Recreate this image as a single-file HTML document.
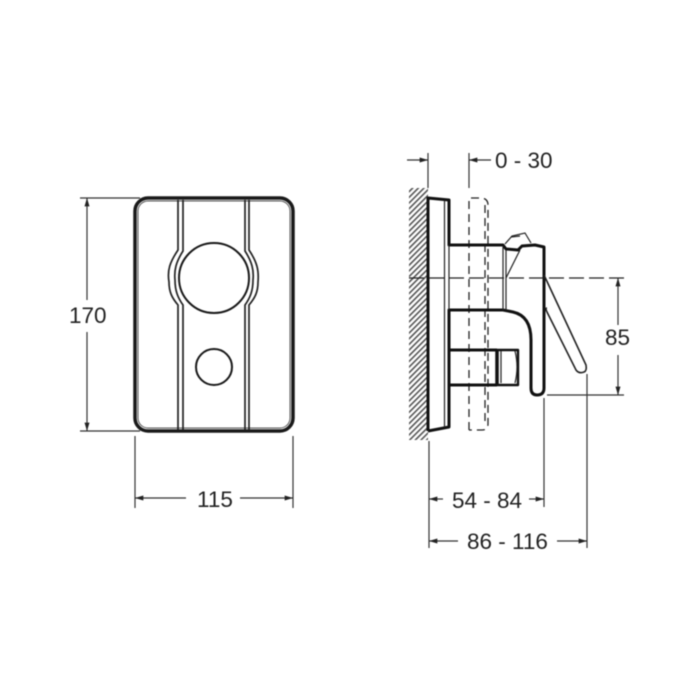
<!DOCTYPE html>
<html><head><meta charset="utf-8"><style>
html,body{margin:0;padding:0;background:#fff;width:700px;height:700px;overflow:hidden}
svg{display:block;filter:blur(.45px)}
text{font-family:"Liberation Sans",sans-serif;font-size:22.5px;fill:#222}
</style></head><body>
<svg width="700" height="700" viewBox="0 0 700 700" xmlns="http://www.w3.org/2000/svg">
<defs>
<pattern id="h" width="4" height="4" patternUnits="userSpaceOnUse" patternTransform="rotate(45)"><rect width="4" height="4" fill="#fff"/><rect width="1.6" height="4" fill="#555"/></pattern>
<marker id="a" viewBox="0 0 10 6" refX="10" refY="3" markerWidth="9" markerHeight="5" orient="auto-start-reverse" markerUnits="userSpaceOnUse"><path d="M0 0L10 3L0 6z" fill="#222"/></marker>
</defs>
<!-- front view -->
<rect x="135" y="198" width="158" height="233" rx="13" fill="#fff" stroke="#1a1a1a" stroke-width="3.5"/>
<rect x="138" y="201" width="152" height="227" rx="10" fill="none" stroke="#555" stroke-width="1"/>
<g fill="none" stroke="#222" stroke-width="1.7">
<path d="M178 200V250C170 262 167 270 169 282C169 292 172 298 178 305V430"/>
<path d="M183 200V251C176 262 174 270 175 280C175 291 178 298 183 305V430"/>
<path d="M245 200V251C252 262 254 270 253 280C253 291 250 298 245 305V430"/>
<path d="M249 200V250C257 262 259 270 258 282C258 292 255 298 249 305V430"/>
</g>
<circle cx="214" cy="278" r="35" fill="#fff" stroke="#1a1a1a" stroke-width="2"/>
<circle cx="214" cy="367" r="18" fill="#fff" stroke="#1a1a1a" stroke-width="2"/>
<!-- front dims -->
<g fill="none" stroke="#333" stroke-width="1.2">
<path d="M80 198H140M80 431H140"/>
<path d="M87 300V198" marker-end="url(#a)"/>
<path d="M87 332V431" marker-end="url(#a)"/>
<path d="M135 436V508M293 436V508"/>
<path d="M186 498H135" marker-end="url(#a)"/>
<path d="M240 498H293" marker-end="url(#a)"/>
</g>
<text x="69" y="323">170</text>
<text x="197" y="507">115</text>
<!-- wall -->
<path d="M409 188H428V440H409z" fill="url(#h)"/>
<!-- dashed escutcheon -->
<g fill="none" stroke="#222" stroke-width="1.3" stroke-dasharray="8 5">
<path d="M469 430V198H482Q488 199 488 205V424Q488 430 482 430H469"/>
<path d="M485 205V424"/>
</g>
<!-- side view solid -->
<g fill="none" stroke="#111" stroke-width="3" stroke-linejoin="round">
<path d="M428 431V198L449 200V245H503L506 249L518 250L522 246L535 245L544 247V388Q544 395 537 395Q531 395 531 388V340Q531 316 513 312L503 310H449V350H497M449 350V427L428 431M449 385H497"/>
<path d="M497 350H518V385H497z" stroke-width="2.4"/>
</g>
<path d="M497 350V385" stroke="#111" stroke-width="3.5"/>
<g fill="none" stroke="#222" stroke-width="1.2">
<path d="M444.500 200V427"/>
<path d="M449 245V310"/>
<path d="M503 246V310M506 250V310"/>
<path d="M506 278L520 250"/>
<path d="M505 244L512 236L525 233L531 243"/>
<path d="M511 237L520 236"/>
<path d="M515 351Q519 367 515 383"/>
<path d="M501 351V383"/>
<path d="M544 275L586 365Q587 371 584 372Q579 374 576 370L547 312Q545 308 547 308" stroke-width="1.6"/>
</g>
<!-- centre line -->
<path d="M409 278H626" stroke="#222" stroke-width="1.3" stroke-dasharray="15 5" fill="none"/>
<!-- side dims -->
<g fill="none" stroke="#333" stroke-width="1.2">
<path d="M428 153V188M469 153V188"/>
<path d="M407 160H428" marker-end="url(#a)"/>
<path d="M491 160H469" marker-end="url(#a)"/>
<path d="M618 278V325" marker-start="url(#a)"/>
<path d="M618 355V395" marker-end="url(#a)"/>
<path d="M547 395H624"/>
<path d="M429 441V548"/>
<path d="M544 398V507"/>
<path d="M587 374V548"/>
<path d="M443 499H429" marker-end="url(#a)"/>
<path d="M529 499H544" marker-end="url(#a)"/>
<path d="M458 541H429" marker-end="url(#a)"/>
<path d="M557 541H587" marker-end="url(#a)"/>
</g>
<text x="495" y="168">0 - 30</text>
<text x="605" y="345">85</text>
<text x="452" y="508">54 - 84</text>
<text x="467" y="549">86 - 116</text>
</svg>
</body></html>
